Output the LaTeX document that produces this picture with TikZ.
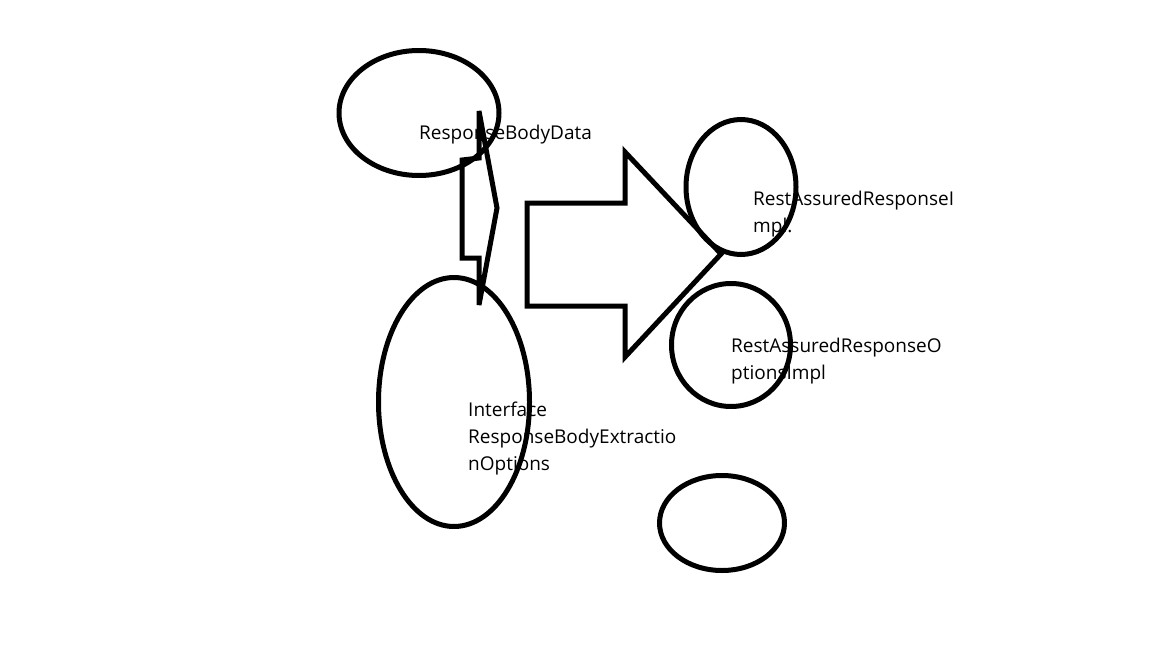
\documentclass[tikz,border=0pt]{standalone}
\usepackage{fontspec}
\setmainfont{Open Sans}
\usetikzlibrary{shapes.geometric}
\tikzset{
  blob/.style={ellipse, draw=black, line width=5pt, inner sep=0pt},
  lbl/.style={anchor=base west, inner sep=0pt, font=\fontsize{19}{27}\selectfont, align=left},
  shp/.style={draw=black, line width=5pt, line join=miter}
}
\begin{document}
\begin{tikzpicture}[x=1pt,y=-1pt]
\useasboundingbox[fill=white] (0,0) rectangle (1152,648);
% labels (base anchor = baseline of last line)
\node[lbl] (t1) at (419,139) {ResponseBodyData};
\node[lbl] (t2) at (753,232) {RestAssuredResponseI\\mpl.};
\node[lbl] (t3) at (731,379) {RestAssuredResponseO\\ptionsImpl};
\node[lbl] (t4) at (468,470) {Interface\\ResponseBodyExtractio\\nOptions};
% ellipses
\node[blob, minimum width=160pt, minimum height=125pt] (e1) at (419,113) {};
\node[blob, minimum width=151pt, minimum height=249pt] (e2) at (454,402) {};
\node[blob, minimum width=110pt, minimum height=135pt] (e3) at (741,187) {};
\node[blob, minimum width=119pt, minimum height=123pt] (e4) at (731,345) {};
\node[blob, minimum width=125pt, minimum height=95pt] (e5) at (722,523) {};
% narrow arrow
\draw[shp] (462,160) -- (479,158) -- (479,111) -- (497,208) -- (479,305) -- (479,258) -- (462,258) -- cycle;
% big arrow
\draw[shp] (527,203) -- (625,203) -- (625,152) -- (721,254) -- (625,357) -- (625,306) -- (527,306) -- cycle;
\end{tikzpicture}
\end{document}
